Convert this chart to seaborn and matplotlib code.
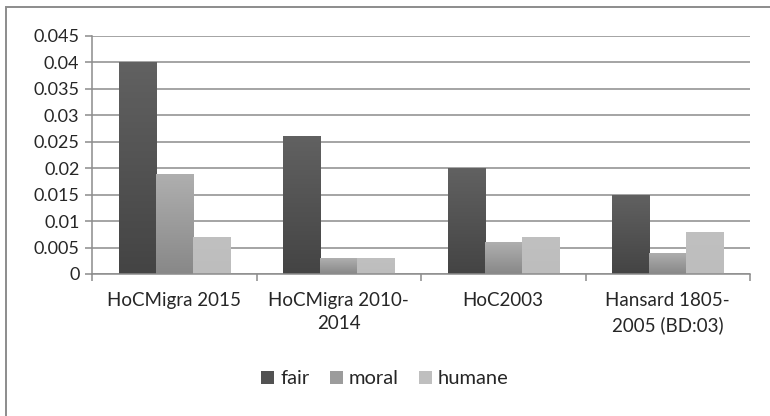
import pandas as pd
import numpy as np
import matplotlib
matplotlib.use('Agg')
import matplotlib.pyplot as plt
import seaborn as sns
from matplotlib.patches import Rectangle, Patch

#### data
corpora = ['HoCMigra 2015', 'HoCMigra 2010-\n2014', 'HoC2003', 'Hansard 1805-\n2005 (BD:03)']
fair = [0.040, 0.026, 0.020, 0.015]
moral = [0.019, 0.003, 0.006, 0.004]
humane = [0.007, 0.003, 0.007, 0.008]
words = ['fair', 'moral', 'humane']
yticks = [0, 0.005, 0.01, 0.015, 0.02, 0.025, 0.03, 0.035, 0.04, 0.045]

df = pd.DataFrame({'corpus': corpora * 3,
                   'word': [w for w in words for _ in corpora],
                   'value': fair + moral + humane})

sns.set_style('white')
plt.rcParams['font.family'] = ['Lato', 'DejaVu Sans']

fig = plt.figure(figsize=(7.7, 4.16), dpi=100)
ax = fig.add_axes([92/770, 1 - 274/416, 658/770, 238/416])

palette = {'fair': '#525252', 'moral': '#9c9c9c', 'humane': '#bfbfbf'}
# top / bottom shades for the gradient fill
shades = {'fair': ('#616161', '#444444'), 'moral': ('#afafaf', '#888888'), 'humane': ('#c0c0c0', '#bdbdbd')}

sns.barplot(data=df, x='corpus', y='value', hue='word', palette=palette,
            width=0.675, gap=0, saturation=1, linewidth=0, ax=ax, legend=False)

# gradient fill inside each bar
for cont, w in zip(ax.containers, words):
    top = np.array(matplotlib.colors.to_rgb(shades[w][0]))
    bot = np.array(matplotlib.colors.to_rgb(shades[w][1]))
    grad = np.linspace(0, 1, 64)[:, None, None]
    img = bot * (1 - grad) + top * grad
    for bar in cont:
        x0, y0 = bar.get_x(), bar.get_y()
        im = ax.imshow(img, extent=[x0, x0 + bar.get_width(), y0, y0 + bar.get_height()],
                       origin='lower', aspect='auto', zorder=bar.get_zorder() + 0.1)
        im.set_clip_path(bar)

ax.set_ylim(0, 0.045)
ax.set_xlim(-0.5, 3.5)
ax.set_yticks(yticks)
ax.set_yticklabels([('%g' % t) for t in yticks], fontsize=13)
ax.yaxis.grid(True, color='#8c8c8c', linewidth=1.1)
ax.set_axisbelow(True)
ax.set_xlabel('')
ax.set_ylabel('')

# category ticks between groups
ax.set_xticks([0, 1, 2, 3])
ax.set_xticklabels(corpora, fontsize=13.5, linespacing=1.45)
ax.tick_params(axis='x', length=0, pad=13)
ax.set_xticks([-0.5, 0.5, 1.5, 2.5, 3.5], minor=True)
ax.tick_params(axis='x', which='minor', length=5, color='#8c8c8c', width=1.1, direction='out')
ax.tick_params(axis='y', length=5, color='#8c8c8c', width=1.1, direction='out', pad=4)
ax.xaxis.set_ticks_position('bottom')
ax.yaxis.set_ticks_position('left')

for s in ['top', 'right']:
    ax.spines[s].set_visible(False)
for s in ['left', 'bottom']:
    ax.spines[s].set_color('#8c8c8c')
    ax.spines[s].set_linewidth(1.1)

handles = [Patch(facecolor=palette[w], linewidth=0) for w in words]
ax.legend(handles, words, loc='center', bbox_to_anchor=(0.5, (416 - 379) / 416),
          bbox_transform=fig.transFigure, ncol=3, frameon=False, fontsize=14.5,
          handlelength=0.65, handleheight=0.65, handletextpad=0.3, columnspacing=1.0)

# outer chart frame (runs off the right and bottom edges)
fig.patches.append(Rectangle((6/770, -10/416), 800/770, 419/416, transform=fig.transFigure,
                             fill=False, edgecolor='#8c8c8c', linewidth=1.4))

fig.savefig('out.png', dpi=100)
